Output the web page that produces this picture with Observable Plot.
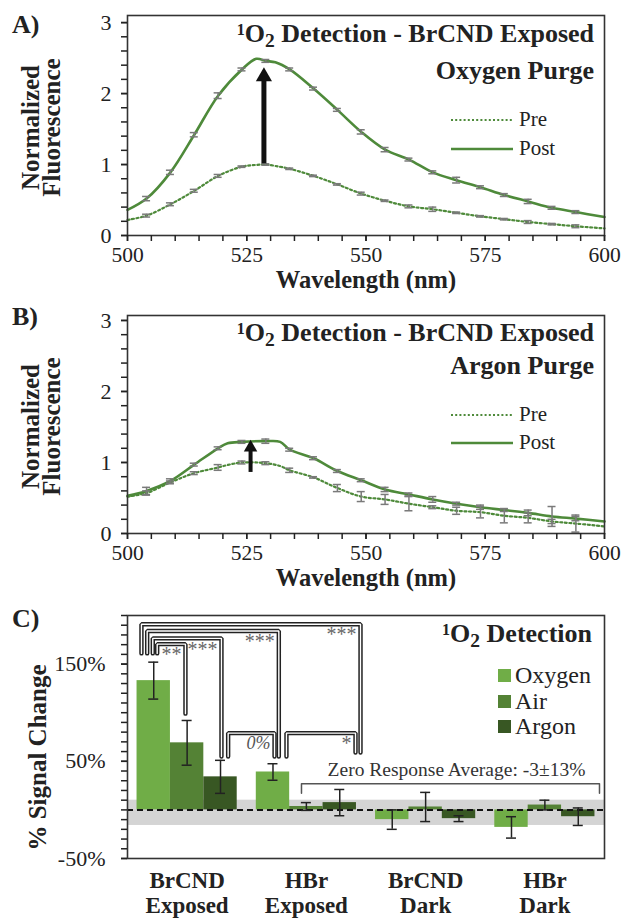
<!DOCTYPE html>
<html><head><meta charset="utf-8">
<script src="https://cdn.jsdelivr.net/npm/d3@7"></script>
<script src="https://cdn.jsdelivr.net/npm/@observablehq/plot@0.6"></script>
<style>
html,body{margin:0;padding:0;background:#fff;}
#root{position:relative;width:621px;height:919px;overflow:hidden;font-family:'Liberation Serif','Times New Roman',Times,serif;color:#222;}
.ov{position:absolute;white-space:nowrap;line-height:1;}
.sup{position:relative;top:-0.42em;font-size:0.62em;}
.sub{position:relative;top:0.22em;font-size:0.75em;}
</style></head><body><div id="root"></div>
<script>
// ---------- Panel A data (Oxygen purge) ----------
const wlA      = [500,504,509,514,519,524,527,529,531,534,539,544,549,554,559,564,569,574,579,584,589,594,600];
const postA    = [0.36,0.52,0.89,1.42,1.97,2.34,2.49,2.46,2.44,2.34,2.07,1.77,1.46,1.21,1.07,0.89,0.78,0.68,0.57,0.48,0.39,0.33,0.26];
const postErrA = [null,0.03,0.03,0.03,0.04,0.02,null,0.02,null,0.02,0.02,0.02,0.03,0.03,0.02,0.02,0.04,0.02,0.02,0.03,0.02,0.02,null];
const preA     = [0.22,0.28,0.44,0.63,0.84,0.97,0.995,1.00,0.98,0.94,0.84,0.72,0.59,0.49,0.41,0.37,0.32,0.27,0.23,0.19,0.16,0.13,0.10];
const preErrA  = [null,0.02,0.02,0.02,0.02,0.01,null,0.01,null,0.01,0.01,0.01,0.02,0.01,0.02,0.03,0.01,0.01,0.01,0.02,0.01,0.02,null];
const arrowA   = {x: 528.6, from: 1.01, to: 2.37};

// ---------- Panel B data (Argon purge) ----------
const wlB      = [500,504,509,514,519,521,524,529,532,534,539,544,549,554,559,564,569,574,579,584,589,594,600];
const postB    = [0.53,0.60,0.74,0.97,1.20,1.27,1.29,1.30,1.29,1.18,1.06,0.88,0.75,0.62,0.55,0.48,0.42,0.37,0.33,0.29,0.24,0.21,0.17];
const postErrB = [null,0.05,0.03,0.02,0.02,null,0.02,0.03,null,0.02,0.02,0.02,0.02,0.03,0.02,0.04,0.02,0.03,0.02,0.04,0.14,0.03,null];
const preB     = [0.52,0.57,0.72,0.85,0.93,0.965,1.00,0.99,0.95,0.89,0.79,0.64,0.52,0.48,0.42,0.37,0.32,0.30,0.25,0.22,0.17,0.14,0.10];
const preErrB  = [null,0.03,0.02,0.02,0.04,null,0.02,0.02,null,0.03,0.01,0.05,0.07,0.07,0.10,0.02,0.05,0.08,0.10,0.07,0.03,0.12,null];
const arrowB   = {x: 525.8, from: 0.86, to: 1.32};

// ---------- Panel C data ----------
const groups    = ["BrCND\nExposed", "HBr\nExposed", "BrCND\nDark", "HBr\nDark"];
const gases     = ["Oxygen", "Air", "Argon"];
const gasColors = ["#70ad47", "#548235", "#385723"];
const oxygen    = [133, 39, -10, -18];
const oxygenErr = [19, 8.5, 10, 11];
const air       = [69, 3.5, 3, 5];
const airErr    = [23, 4, 15, 5];
const argon     = [34, 7.5, -9, -7];
const argonErr  = [17, 13.5, 3, 9];
const zeroAvg = -3, zeroSd = 13;
const zeroLabel = "Zero Response Average: -3±13%";
// significance brackets: x in group units, y in %
const brackets = [
  {id: 1, x1: -0.383, x2: 1.454, top: 191, lb: 161, rb: 59, label: "***", italic: false},
  {id: 2, x1: -0.335, x2: 0.769, top: 184, lb: 161, rb: 55, label: "***", italic: false},
  {id: 3, x1: -0.288, x2: 0.288, top: 176.5, lb: 161, rb: 55, label: "***", italic: false},
  {id: 4, x1: -0.251, x2: -0.014, top: 170.5, lb: 161, rb: 99, label: "**", italic: false},
  {id: 5, x1: 0.344, x2: 0.733, top: 79, lb: 55, rb: 55, label: "0%", italic: true},
  {id: 6, x1: 0.833, x2: 1.412, top: 79, lb: 55, rb: 59, label: "*", italic: false}
];
const zeroBracket = {x1: 0.959, x2: 3.458, top: 27, bottom: 17.2, labelX: 2.259, labelY: 41.5};

// ---------- helpers ----------
const W = 621;
const serif = "'Liberation Serif','Times New Roman',Times,serif";
const green = "#4e8a3a";
const root = document.getElementById("root");

function placeSvg(el, top) {
  el.style.position = "absolute"; el.style.left = "0px"; el.style.top = top + "px";
  root.appendChild(el);
}
function overlay(html, opts) {
  const d = document.createElement("div");
  d.className = "ov";
  d.innerHTML = html;
  d.style.fontSize = opts.size + "px";
  if (opts.bold) d.style.fontWeight = "bold";
  if (opts.left != null) d.style.left = opts.left + "px";
  if (opts.right != null) d.style.right = opts.right + "px";
  const top = opts.baseline != null ? opts.baseline - 0.8375 * opts.size : opts.capCenter - 0.51 * opts.size;
  d.style.top = top + "px";
  root.appendChild(d);
  return d;
}
function lineSample(x, y, w, dashed) {
  const s = document.createElementNS("http://www.w3.org/2000/svg", "svg");
  s.setAttribute("width", w); s.setAttribute("height", 8);
  s.style.position = "absolute"; s.style.left = x + "px"; s.style.top = (y - 4) + "px";
  const l = document.createElementNS("http://www.w3.org/2000/svg", "line");
  l.setAttribute("x1", 0); l.setAttribute("x2", w); l.setAttribute("y1", 4); l.setAttribute("y2", 4);
  l.setAttribute("stroke", green); l.setAttribute("stroke-width", dashed ? 2.2 : 2.6);
  if (dashed) l.setAttribute("stroke-dasharray", "2,2.2");
  s.appendChild(l); root.appendChild(s);
}

function spectrumPanel({wl, pre, preErr, post, postErr, arrow, yMax, marginTop, head}) {
  const rows = wl.map((w, i) => ({w, pre: pre[i], post: post[i], preErr: preErr[i], postErr: postErr[i]}));
  const errs = [];
  rows.forEach(r => {
    if (r.preErr != null) errs.push({w: r.w, lo: r.pre - r.preErr, hi: r.pre + r.preErr});
    if (r.postErr != null) errs.push({w: r.w, lo: r.post - r.postErr, hi: r.post + r.postErr});
  });
  return Plot.plot({
    width: W, height: 300, marginTop, marginBottom: 65, marginLeft: 127, marginRight: 17,
    style: {fontFamily: serif, fontSize: "21px", color: "#222", background: "transparent", overflow: "visible"},
    x: {domain: [500, 600], axis: null},
    y: {domain: [0, yMax], axis: null},
    marks: [
      Plot.line(rows, {x: "w", y: "pre", stroke: green, strokeWidth: 2.2, strokeDasharray: "2,2.6", curve: "catmull-rom"}),
      Plot.line(rows, {x: "w", y: "post", stroke: green, strokeWidth: 2.6, curve: "catmull-rom"}),
      Plot.ruleX(errs, {x: "w", y1: "lo", y2: "hi", stroke: "#7a7a7a", strokeWidth: 1.5}),
      Plot.ruleY(errs, {y: "lo", x1: "w", x2: "w", insetLeft: -4, insetRight: -4, stroke: "#7a7a7a", strokeWidth: 1.5}),
      Plot.ruleY(errs, {y: "hi", x1: "w", x2: "w", insetLeft: -4, insetRight: -4, stroke: "#7a7a7a", strokeWidth: 1.5}),
      Plot.ruleX([arrow], {x: "x", y1: "to", y2: "from", insetTop: 9, stroke: "#111", strokeWidth: head.shaft}),
      Plot.dot([arrow], {x: "x", y: "to", symbol: "triangle", r: head.r, fill: "#111", stroke: null, dy: head.dy}),
      Plot.frame({stroke: "#333", strokeWidth: 1.6}),
      Plot.axisX([500, 525, 550, 575, 600], {tickSize: 6, tickPadding: 5, tickFormat: d => String(d), label: null, fontSize: 21.5, strokeWidth: 1.5}),
      Plot.axisX(d3.range(500, 601, 5), {tickSize: 6, tickFormat: () => "", label: null, strokeWidth: 1.5}),
      Plot.axisY([0, 1, 2, 3], {tickSize: 6, tickPadding: 10, tickFormat: d => String(d), label: null, fontSize: 22, strokeWidth: 1.5}),
      Plot.axisY(d3.range(0, 3.01, 0.2), {tickSize: 6, tickFormat: () => "", label: null, strokeWidth: 1.5}),
      Plot.text(["Normalized\nFluorescence"], {frameAnchor: "left", textAnchor: "middle", lineAnchor: "middle", rotate: -90, dx: -84.5, dy: 2, fontWeight: "bold", fontSize: 25, lineHeight: 0.84, fill: "#222"}),
      Plot.text(["Wavelength (nm)"], {frameAnchor: "bottom", lineAnchor: "middle", dy: 45, fontWeight: "bold", fontSize: 24.5, fill: "#222"})
    ]
  });
}

// ---------- Panel A ----------
placeSvg(spectrumPanel({wl: wlA, pre: preA, preErr: preErrA, post: postA, postErr: postErrA, arrow: arrowA,
  yMax: 3.1, marginTop: 15, head: {r: 6, dy: 9.35, shaft: 5}}), 0);
// ---------- Panel B ----------
placeSvg(spectrumPanel({wl: wlB, pre: preB, preErr: preErrB, post: postB, postErr: postErrB, arrow: arrowB,
  yMax: 3.07, marginTop: 17, head: {r: 5, dy: 7.8, shaft: 4}}), 298);

// ---------- Panel C ----------
const BW = 0.28;
const vals = [oxygen, air, argon], errsC = [oxygenErr, airErr, argonErr];
const bars = [];
groups.forEach((g, gi) => gases.forEach((s, si) => {
  bars.push({g, s, v: vals[si][gi], e: errsC[si][gi], cx: gi + (si - 1) * BW});
}));
const bracketPts = brackets.flatMap(b => [
  {id: b.id, x: b.x1, y: b.lb}, {id: b.id, x: b.x1, y: b.top}, {id: b.id, x: b.x2, y: b.top}, {id: b.id, x: b.x2, y: b.rb}
]);
const zeroPts = [
  {x: zeroBracket.x1, y: zeroBracket.bottom}, {x: zeroBracket.x1, y: zeroBracket.top},
  {x: zeroBracket.x2, y: zeroBracket.top}, {x: zeroBracket.x2, y: zeroBracket.bottom}
];
const plotC = Plot.plot({
  width: W, height: 319, marginTop: 15, marginBottom: 61, marginLeft: 127, marginRight: 17,
  style: {fontFamily: serif, fontSize: "22px", color: "#222", background: "transparent", overflow: "visible"},
  x: {domain: [-0.5, 3.5], axis: null},
  y: {domain: [-50, 200], axis: null},
  color: {domain: gases, range: gasColors},
  marks: [
    Plot.rect([{lo: zeroAvg - zeroSd, hi: zeroAvg + zeroSd}], {y1: "lo", y2: "hi", fill: "#d4d4d4"}),
    Plot.rect(bars, {x1: d => d.cx - BW / 2, x2: d => d.cx + BW / 2, y1: () => 0, y2: "v", fill: "s"}),
    Plot.ruleY([0], {stroke: "#111", strokeWidth: 2, strokeDasharray: "6,4"}),
    Plot.ruleX(bars, {x: "cx", y1: d => d.v - d.e, y2: d => d.v + d.e, stroke: "#222", strokeWidth: 1.5}),
    Plot.ruleY(bars, {y: d => d.v - d.e, x1: "cx", x2: "cx", insetLeft: -5, insetRight: -5, stroke: "#222", strokeWidth: 1.5}),
    Plot.ruleY(bars, {y: d => d.v + d.e, x1: "cx", x2: "cx", insetLeft: -5, insetRight: -5, stroke: "#222", strokeWidth: 1.5}),
    Plot.line(bracketPts, {x: "x", y: "y", z: "id", stroke: "#222", strokeWidth: 4.4, strokeLinejoin: "miter", curve: "linear"}),
    Plot.line(bracketPts, {x: "x", y: "y", z: "id", stroke: "#fff", strokeWidth: 1.4, strokeLinejoin: "miter", curve: "linear"}),
    Plot.text(brackets.filter(b => !b.italic), {x: "x2", y: "top", text: "label", textAnchor: "end", lineAnchor: "top", dx: -4, dy: 3, fill: "#666", fontSize: 20}),
    Plot.text(brackets.filter(b => b.italic), {x: "x2", y: "top", text: "label", textAnchor: "end", lineAnchor: "top", dx: -4, dy: 3, fill: "#555", fontSize: 18, fontStyle: "italic"}),
    Plot.line(zeroPts, {x: "x", y: "y", stroke: "#555", strokeWidth: 1.5}),
    Plot.text([zeroBracket], {x: "labelX", y: "labelY", text: () => zeroLabel, fontSize: 19.5, fill: "#333"}),
    Plot.frame({stroke: "#333", strokeWidth: 1.6}),
    Plot.axisY([-50, 50, 150], {tickSize: 6, tickPadding: 16, tickFormat: d => d + "%", label: null, fontSize: 22, strokeWidth: 1.5}),
    Plot.axisY(d3.range(-50, 201, 10), {tickSize: 6, tickFormat: () => "", label: null, strokeWidth: 1.5}),
    Plot.text(groups, {x: (d, i) => i, frameAnchor: "bottom", lineAnchor: "middle", dy: 34, fontWeight: "bold", fontSize: 23, lineHeight: 1.1, fill: "#222"}),
    Plot.text(["% Signal Change"], {frameAnchor: "left", textAnchor: "middle", lineAnchor: "middle", rotate: -90, dx: -90, dy: 20.5, fontWeight: "bold", fontSize: 25, fill: "#222"})
  ]
});
placeSvg(plotC, 600);

// ---------- overlays: panel letters, titles, legends ----------
overlay("A)", {left: 12, capCenter: 25, size: 26, bold: true});
overlay("B)", {left: 12, capCenter: 317, size: 26, bold: true});
overlay("C)", {left: 12, capCenter: 619, size: 26, bold: true});

const titleHtml = '<span class="sup">1</span>O<span class="sub">2</span> Detection';
overlay(titleHtml + " - BrCND Exposed", {right: 27, baseline: 43, size: 26, bold: true});
overlay("Oxygen Purge", {right: 27, baseline: 80, size: 26, bold: true});
overlay(titleHtml + " - BrCND Exposed", {right: 27, baseline: 342, size: 26, bold: true});
overlay("Argon Purge", {right: 27, baseline: 375, size: 26, bold: true});
overlay(titleHtml, {right: 29, baseline: 643, size: 26, bold: true});

// spectra legends
const legendLabels = ["Pre", "Post"];
[[120, 148.5], [415, 443]].forEach(([yPre, yPost]) => {
  lineSample(451, yPre, 62, true);
  lineSample(451, yPost, 62, false);
  overlay(legendLabels[0], {left: 519, capCenter: yPre, size: 21});
  overlay(legendLabels[1], {left: 519, capCenter: yPost, size: 21});
});

// bar legend
[675.5, 701, 726.5].forEach((cy, i) => {
  const sq = document.createElement("div");
  sq.style.cssText = `position:absolute;left:498px;top:${cy - 6.5}px;width:13px;height:13px;background:${gasColors[i]};`;
  root.appendChild(sq);
  overlay(gases[i], {left: 515, capCenter: cy, size: 24});
});
</script>
</body></html>
